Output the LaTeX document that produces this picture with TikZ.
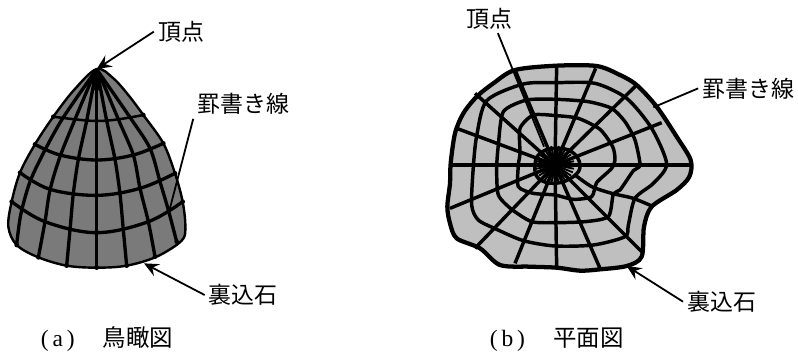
\documentclass[tikz,border=0pt]{standalone}
\usepackage{fontspec}
\setmainfont{Liberation Serif}
\newfontfamily\jpfont{Noto Sans CJK JP}[Scale=1]
\usetikzlibrary{arrows.meta}
\tikzset{
  zleft/.style={x=0.25pt,y=-0.25pt},
  zright/.style={x=0.25pt,y=-0.25pt,shift={(315pt,0pt)}},
  lbl/.style={inner sep=3pt,font=\jpfont\fontsize{17.2pt}{18pt}\selectfont},
  capn/.style={inner sep=0pt,font=\fontsize{17.6pt}{18pt}\selectfont},
  leader/.style={line width=1.35pt},
  arrowed/.style={leader,-{Stealth[length=11pt,width=10pt,inset=4pt]}},
  domeedge/.style={draw=black,line width=1.8pt,fill=black!52,line join=round},
  domeline/.style={line width=2.5pt,line cap=round},
  planedge/.style={draw=black,line width=3.2pt,fill=black!25,line join=round},
  planring/.style={line width=2.6pt,line join=round},
  planspoke/.style={line width=2.6pt},
}
\begin{document}
\begin{tikzpicture}
\useasboundingbox (0,0) rectangle (598.5pt,-265.5pt);
% ---------- (a) bird's-eye view
\begin{scope}[zleft]
\coordinate (apexA) at (290,207);
\coordinate (baseA) at (432,790);
\coordinate (scribeA) at (508,632);
\draw[domeedge] plot[smooth cycle,tension=.55] coordinates {(290,207) (340,235) (385,285) (430,345) (490,430) (525,520) (548,605) (556,680) (545,722) (470,770) (380,797) (290,803) (200,797) (115,772) (50,735) (25,680) (35,605) (60,518) (105,433) (160,350) (222,270)};
% rings
\draw[domeline,line width=1.9pt] plot[smooth,tension=.6] coordinates {(160,350) (225,358) (290,363) (355,358) (430,345)};
\draw[domeline] plot[smooth,tension=.6] coordinates {(105,433) (180,465) (290,480) (400,465) (490,430)};
\draw[domeline] plot[smooth,tension=.6] coordinates {(60,518) (150,568) (290,586) (420,565) (525,520)};
\draw[domeline] plot[smooth,tension=.6] coordinates {(35,605) (135,665) (290,698) (445,665) (548,605)};
% meridians
\draw[domeline] plot[smooth,tension=.5] coordinates {(285,215) (190,352) (135,450) (90,545) (62,645) (50,735)};
\draw[domeline] plot[smooth,tension=.5] coordinates {(285,215) (225,358) (180,470) (150,570) (135,665) (115,772)};
\draw[domeline] plot[smooth,tension=.5] coordinates {(288,215) (260,362) (235,478) (220,580) (210,690) (200,797)};
\draw[domeline] plot coordinates {(290,215) (290,803)};
\draw[domeline] plot[smooth,tension=.5] coordinates {(292,215) (320,362) (345,478) (360,582) (370,690) (380,797)};
\draw[domeline] plot[smooth,tension=.5] coordinates {(295,215) (355,358) (400,465) (420,565) (445,665) (465,770)};
\draw[domeline] plot[smooth,tension=.5] coordinates {(295,215) (390,352) (450,445) (480,545) (505,630) (530,725)};
\fill (290,240) ellipse[x radius=14,y radius=34];
\foreach \px/\py in {160/350,105/433,60/518,35/605,50/735,115/772,200/797,290/803,380/797,465/770,430/345,490/430,525/520,548/605,530/725}
  \fill (\px,\py) circle[radius=7];
\node[lbl] (topA) at (543,95) {頂点};
\node[lbl] (scrA) at (730,312) {罫書き線};
\node[lbl] (backA) at (730,885) {裏込石};
\node[capn] (capA) at (321,1018) {(\,a\,)\hspace{21pt}{\jpfont 鳥瞰図}};
\draw[arrowed] (topA.west) -- (apexA);
\draw[leader] (scrA.south west) -- (scribeA);
\draw[arrowed] (backA.west) -- (baseA);
\end{scope}
% ---------- (b) plan view
\begin{scope}[zright]
\coordinate (c) at (405,495);
\coordinate (baseB) at (620,798);
\coordinate (scribeB) at (700,322);
\coordinate (apexB) at (372,440);
\path[planedge] plot[smooth cycle,tension=.5] coordinates {(285,210) (410,197) (530,198) (600,225) (650,255) (710,320) (770,410) (812,480) (808,530) (770,570) (695,620) (672,680) (665,770) (620,798) (540,808) (480,812) (410,803) (330,800) (240,795) (180,745) (110,715) (90,670) (82,620) (90,550) (92,490) (105,400) (130,340) (170,290) (220,250)};
% spokes
\foreach \ex/\ey in {410/197,527/205,650/255,725/368,810/495,665/755,540/805,410/803,285/790,165/745,90/625,92/495,110/385,165/280,285/210}
  \draw[planspoke] (c) -- (\ex,\ey);
\draw[planspoke] plot[smooth,tension=.4] coordinates {(465,525) (515,560) (575,580) (640,595) (700,620)};
% rings
\draw[planring] plot[smooth cycle,tension=.45] coordinates {(410,248) (525,250) (620,295) (695,385) (740,492) (700,550) (645,595) (625,675) (615,710) (520,735) (405,738) (310,722) (230,688) (175,660) (155,615) (160,500) (170,408) (200,302) (310,252)};
\draw[planring] plot[smooth cycle,tension=.4] coordinates {(410,298) (505,305) (575,325) (615,365) (645,420) (660,495) (640,512) (600,570) (580,582) (565,650) (495,665) (405,668) (335,665) (275,628) (235,585) (230,505) (235,435) (250,335) (320,300)};
\draw[planring] plot[smooth cycle,tension=.4] coordinates {(410,347) (475,355) (540,388) (578,440) (585,478) (575,505) (530,548) (515,590) (460,598) (405,585) (340,580) (295,560) (295,495) (300,460) (300,385) (340,345)};
\draw[planring] plot[smooth cycle,tension=.7] coordinates {(405,445) (455,455) (480,495) (460,530) (405,550) (355,535) (345,495) (360,460)};
% centre
\foreach \a in {0,11.25,...,348.75}
  \draw[line width=1.4pt] (c) -- ++(\a:58);
\fill (c) circle[radius=26];
\node[lbl] (topB) at (208,55) {頂点};
\node[lbl] (scrB) at (985,265) {罫書き線};
\node[lbl] (backB) at (905,905) {裏込石};
\node[capn] (capB) at (410,1020) {(\,b\,)\hspace{21pt}{\jpfont 平面図}};
\draw[leader] (topB.-60) -- (apexB);
\draw[leader] (scrB.west) -- (scribeB);
\draw[arrowed] (backB.west) -- (baseB);
\end{scope}
\end{tikzpicture}
\end{document}
